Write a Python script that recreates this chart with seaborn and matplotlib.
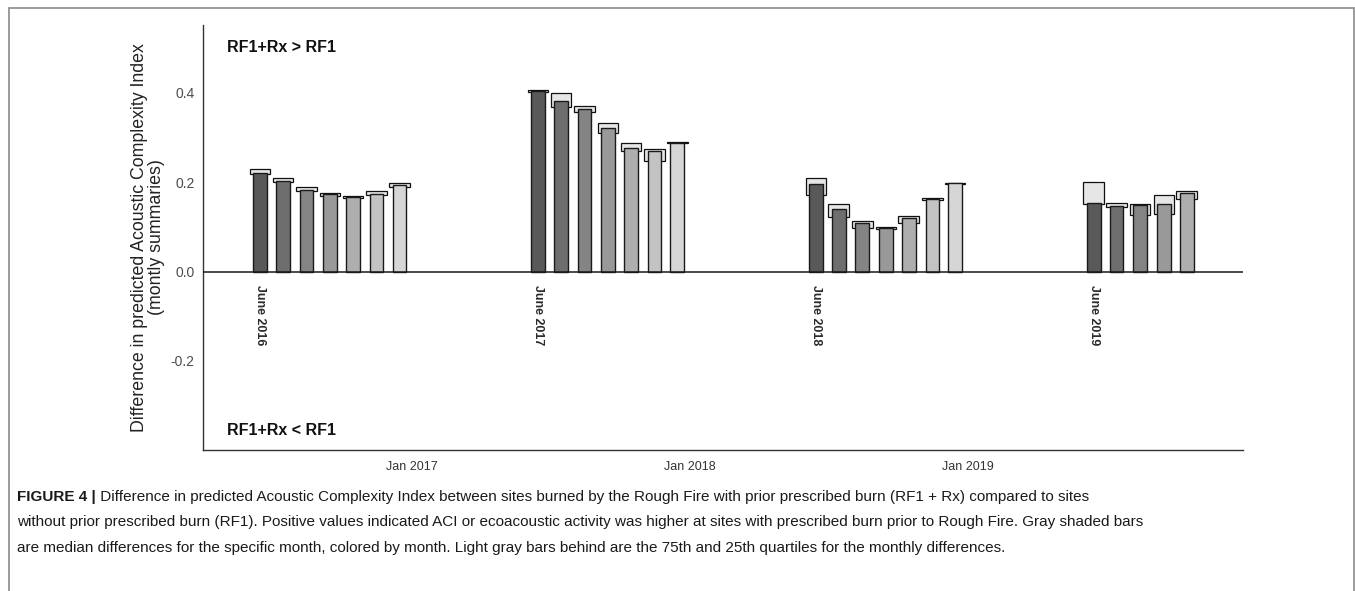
import numpy as np
import pandas as pd
import matplotlib
matplotlib.use("Agg")
import matplotlib.pyplot as plt
import matplotlib.dates as mdates
from matplotlib.patches import Rectangle
import seaborn as sns

# ---------------- data ----------------
months = ["2016-06", "2016-07", "2016-08", "2016-09", "2016-10", "2016-11", "2016-12",
          "2017-06", "2017-07", "2017-08", "2017-09", "2017-10", "2017-11", "2017-12",
          "2018-06", "2018-07", "2018-08", "2018-09", "2018-10", "2018-11", "2018-12",
          "2019-06", "2019-07", "2019-08", "2019-09", "2019-10"]
median_diff = [0.2195, 0.202, 0.182, 0.1725, 0.166, 0.174, 0.1927,
               0.403, 0.382, 0.3625, 0.320, 0.277, 0.269, 0.288,
               0.1958, 0.140, 0.108, 0.0968, 0.119, 0.162, 0.197,
               0.154, 0.1467, 0.148, 0.150, 0.175]
q25 = [0.218, 0.200, 0.180, 0.169, 0.165, 0.1717, 0.1896,
       0.401, 0.368, 0.357, 0.309, 0.269, 0.2477, 0.287,
       0.171, 0.1227, 0.0965, 0.0945, 0.108, 0.160, 0.196,
       0.152, 0.1444, 0.126, 0.1296, 0.1614]
q75 = [0.228, 0.209, 0.1896, 0.176, 0.168, 0.179, 0.197,
       0.406, 0.398, 0.3706, 0.331, 0.2865, 0.273, 0.290,
       0.2085, 0.151, 0.1138, 0.099, 0.125, 0.165, 0.198,
       0.200, 0.152, 0.150, 0.1705, 0.1806]
month_names = ["June", "July", "August", "September", "October", "November", "December"]
month_greys = ["#595959", "#6e6e6e", "#848484", "#999999", "#aeaeae", "#c3c3c3", "#d6d6d6"]
june_labels = ["June 2016", "June 2017", "June 2018", "June 2019"]
ytick_values = [-0.2, 0.0, 0.2, 0.4]
ytick_labels = ["-0.2", "0.0", "0.2", "0.4"]
annot_top = "RF1+Rx > RF1"
annot_bottom = "RF1+Rx < RF1"
y_label = "Difference in predicted Acoustic Complexity Index\n(montly summaries)"
caption_bold = "FIGURE 4 |"
caption_lines = [
    " Difference in predicted Acoustic Complexity Index between sites burned by the Rough Fire with prior prescribed burn (RF1 + Rx) compared to sites",
    "without prior prescribed burn (RF1). Positive values indicated ACI or ecoacoustic activity was higher at sites with prescribed burn prior to Rough Fire. Gray shaded bars",
    "are median differences for the specific month, colored by month. Light gray bars behind are the 75th and 25th quartiles for the monthly differences.",
]

# ---------------- style ----------------
sns.set_style("white")
plt.rcParams["font.family"] = ["Liberation Sans", "DejaVu Sans"]
plt.rcParams["axes.unicode_minus"] = False

W, H = 1355, 591
dates = pd.to_datetime(months, format="%Y-%m") + pd.Timedelta(days=14)
df = pd.DataFrame({
    "x": mdates.date2num(dates),
    "median": median_diff,
    "q25": q25,
    "q75": q75,
    "month": dates.strftime("%B"),
})
df["iqr"] = df["q75"] - df["q25"]
palette = dict(zip(month_names, month_greys))

fig = plt.figure(figsize=(W / 100, H / 100), dpi=100)
ax = fig.add_axes([203 / W, 1 - 450 / H, 1040 / W, 425 / H])

# quartile boxes (behind)
sns.barplot(data=df, x="x", y="iqr", bottom=df["q25"].to_numpy(), native_scale=True,
            width=0.9, color="#e6e6e6", saturation=1, edgecolor="#111111",
            linewidth=0.9, errorbar=None, ax=ax)
# median bars
sns.barplot(data=df, x="x", y="median", hue="month", palette=palette, native_scale=True,
            width=0.6, dodge=False, saturation=1, edgecolor="#1a1a1a", linewidth=1.0,
            errorbar=None, legend=False, ax=ax)

ax.axhline(0, color="#1a1a1a", lw=1.1, zorder=3)

x0 = df["x"].min()
ax.set_xlim(x0 - 75, x0 + 1291)
ax.set_ylim(-0.399, 0.551)

ax.xaxis.set_major_locator(mdates.YearLocator())
ax.xaxis.set_major_formatter(mdates.DateFormatter("%b %Y"))
ax.set_yticks(ytick_values, labels=ytick_labels)
ax.tick_params(axis="y", length=0, pad=6, labelsize=10, labelcolor="#4d4d4d")
ax.tick_params(axis="x", length=0, pad=8, labelsize=9, labelcolor="#333333")
ax.set_xlabel("")
ax.set_ylabel(y_label, fontsize=12.8, color="#222222", linespacing=1.0)
ax.yaxis.set_label_coords(-0.0365, 0.5)

sns.despine(ax=ax)
for s in ("left", "bottom"):
    ax.spines[s].set_color("#333333")
    ax.spines[s].set_linewidth(1.0)

# June labels
june_x = df.loc[df["month"] == "June", "x"].to_numpy()
for xv, lab in zip(june_x, june_labels):
    ax.text(xv, -0.03, lab, rotation=270, ha="center", va="top", fontsize=9,
            fontweight="bold", color="#2b2b2b")

ax.text(0.023, 0.50, annot_top, transform=ax.get_yaxis_transform(), ha="left", va="center",
        fontsize=11.5, fontweight="bold", color="#111111")
ax.text(0.023, -0.356, annot_bottom, transform=ax.get_yaxis_transform(), ha="left", va="center",
        fontsize=11.5, fontweight="bold", color="#111111")

# outer frame
fig.add_artist(Rectangle((9 / W, -0.1), (1354 - 9) / W, 1.1 - 8 / H, transform=fig.transFigure,
                         fill=False, edgecolor="#8a8a8a", lw=1.2))

# caption
cap_size = 11
line_y = [497, 522, 548]
fig.canvas.draw()
renderer = fig.canvas.get_renderer()
tb = fig.text(17 / W, 1 - line_y[0] / H, caption_bold, ha="left", va="center",
              fontsize=cap_size, fontweight="bold", color="#1a1a1a")
bb = tb.get_window_extent(renderer)
fig.text(bb.x1 / W, 1 - line_y[0] / H, caption_lines[0], ha="left", va="center",
         fontsize=cap_size, color="#1a1a1a")
for yy, line in zip(line_y[1:], caption_lines[1:]):
    fig.text(17 / W, 1 - yy / H, line, ha="left", va="center", fontsize=cap_size, color="#1a1a1a")

fig.savefig("out.png", dpi=100)
